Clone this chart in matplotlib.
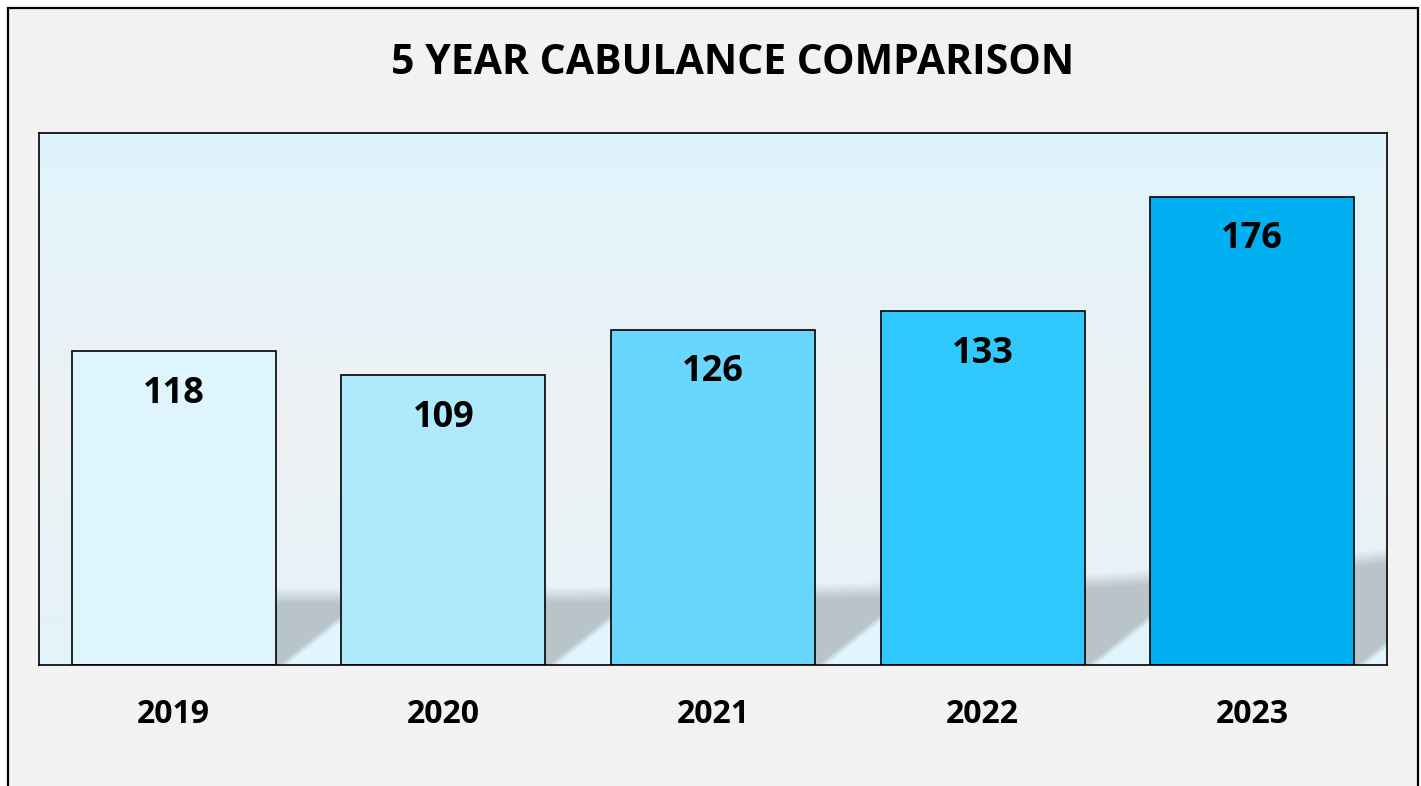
import numpy as np
import matplotlib
matplotlib.use("Agg")
import matplotlib.pyplot as plt
from matplotlib.patches import Rectangle

years = ["2019", "2020", "2021", "2022", "2023"]
counts = [118, 109, 126, 133, 176]
bar_colors = ["#dff5fd", "#aeeafc", "#69d7fd", "#2fc9fe", "#00b0f0"]
title = "5 YEAR CABULANCE COMPARISON"

plt.rcParams['font.family'] = ['Open Sans', 'DejaVu Sans']

fig = plt.figure(figsize=(14.21, 7.86), dpi=100, facecolor="white")

# outer chart frame (grey box, top edge just below the image top)
frame = Rectangle((8 / 1421, -0.05), 1410 / 1421, 1 - 8 / 786 + 0.05,
                  transform=fig.transFigure, facecolor="#f2f2f2",
                  edgecolor="black", linewidth=1.6, zorder=-5)
fig.patches.append(frame)

ax = fig.add_axes([39 / 1421, 1 - 665 / 786, 1348 / 1421, 532 / 786])
ax.set_facecolor("none")

bar_w = 0.757
ymax = 200
ax.set_xlim(-0.5, len(years) - 0.5)
ax.set_ylim(0, ymax)

# background: blue-to-grey wash with a grey "floor" shadow band
H, W = 532, 1348
ypx = np.arange(H)[:, None] + 0.5
xpx = np.arange(W)[None, :] + 0.5
yval = ymax * (1 - ypx / H)


def hexrgb(h):
    return np.array([int(h[i:i + 2], 16) for i in (1, 3, 5)]) / 255.0


stops = [0, 30, 90, ymax]
stop_cols = [hexrgb(c) for c in ["#e2f4fb", "#e7f2f7", "#eef1f3", "#dff4fd"]]
base = np.zeros((H, W, 3))
for c in range(3):
    base[:, :, c] = np.interp(yval[:, 0], stops, [s[c] for s in stop_cols])[:, None]

r = xpx / W
band_top = 29 + 15 * r ** 4
inside = np.clip((band_top - yval) / 6.0, 0, 1)

step = W / len(years)
half = bar_w / 2 * step
dx = np.full((1, W), 1e9)
for i in range(len(years)):
    right = (i + 0.5) * step + half
    d = xpx - right
    dx = np.where((d >= 0) & (d < dx), d, dx)
first_right = 0.5 * step + half
inside = np.where(xpx < first_right, 0, inside)

h_px = H - ypx
s = np.clip((h_px - 0.8 * (dx - 12)) / 8.0, 0, 1)
gray = hexrgb("#b9c4ca")
light = hexrgb("#e0f5fd")
inner = light * (1 - s[..., None]) + gray * s[..., None]
img = base * (1 - inside[..., None]) + inner * inside[..., None]
ax.imshow(img, extent=[-0.5, len(years) - 0.5, 0, ymax], aspect="auto",
          zorder=0, interpolation="bilinear")

x = np.arange(len(years))
bars = ax.bar(x, counts, width=bar_w, color=bar_colors, edgecolor="black",
              linewidth=1.2, zorder=2)

for xi, v in zip(x, counts):
    ax.text(xi, v - 16, str(v), ha="center", va="center", fontsize=26,
            fontweight="bold", color="black", zorder=3)

ax.set_xticks(x)
ax.set_xticklabels(years, fontsize=23, fontweight="bold")
ax.tick_params(axis="x", length=0, pad=24)
ax.set_yticks([])
for sp in ax.spines.values():
    sp.set_color("black")
    sp.set_linewidth(1.2)
    sp.set_zorder(4)

fig.text(733 / 1421, 1 - 63 / 786, title, ha="center", va="center",
         fontsize=29.5, fontweight="bold", color="black")

fig.savefig("out.png", dpi=100, facecolor=fig.get_facecolor())
